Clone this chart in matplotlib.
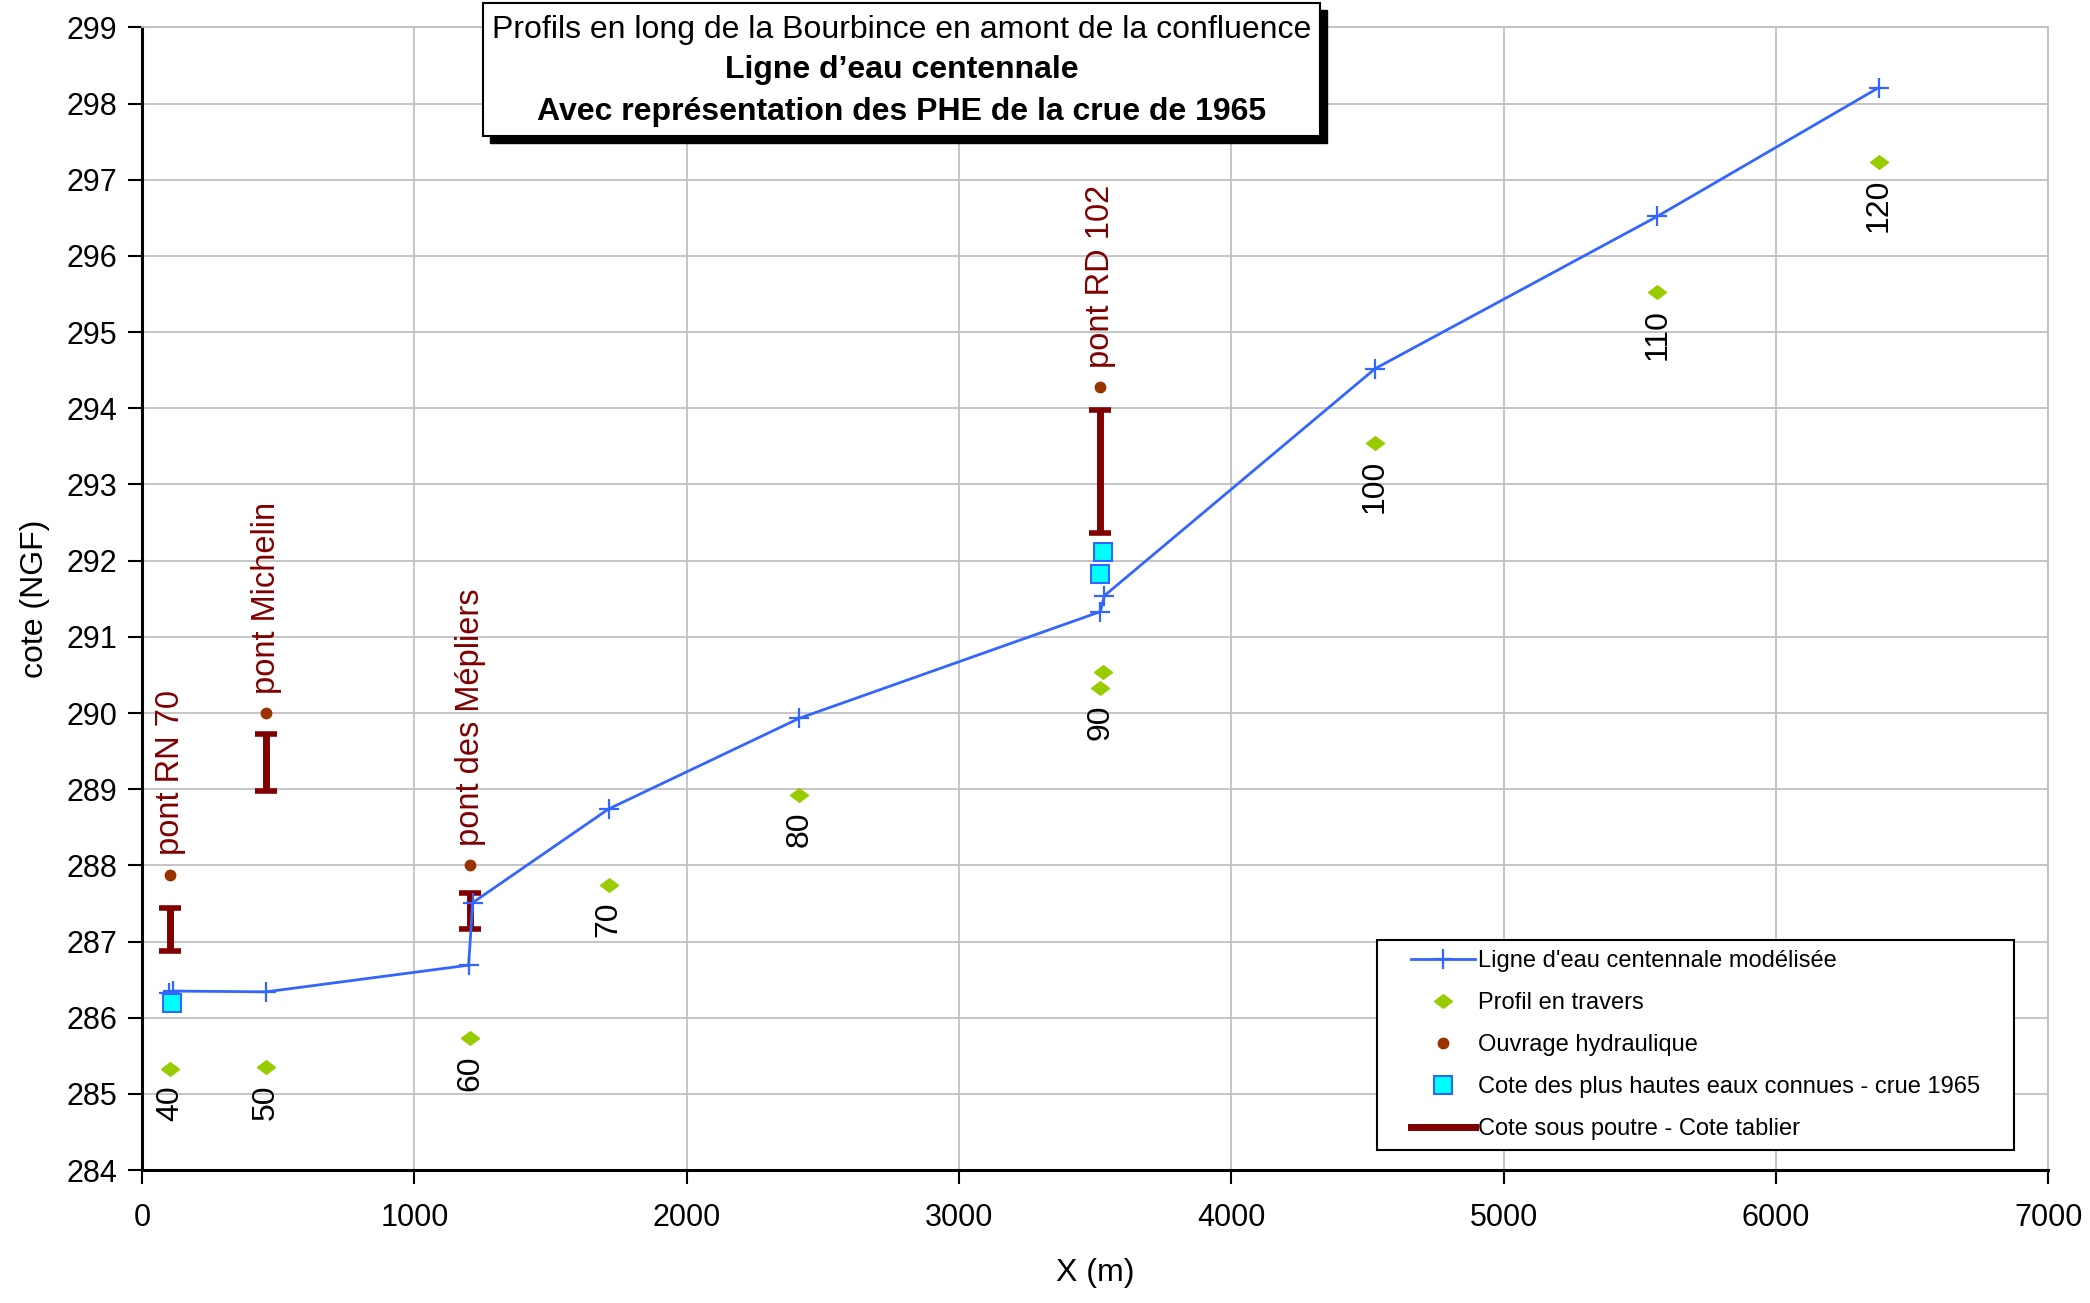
import matplotlib.pyplot as plt
from matplotlib.lines import Line2D
from matplotlib.patches import Rectangle
from matplotlib.path import Path

plt.rcParams['font.family'] = ['Liberation Sans', 'DejaVu Sans']

# ---- données lues sur le graphique
# ligne d'eau centennale modélisée
line_x = [100, 112, 455, 1199, 1214, 1713, 2413, 3519, 3534, 4528, 5565, 6378]
line_z = [286.33, 286.35, 286.34, 286.69, 287.51, 288.74, 289.93, 291.33, 291.54,
          294.52, 296.52, 298.21]

# profils en travers (fond)
prof_num = ['40', '50', '60', '70', '80', '90', '100', '110', '120']
prof_x = [103, 455, 1205, 1713, 2413, 3519, 4528, 5565, 6378]
prof_z = [285.33, 285.35, 285.73, 287.74, 288.93, 290.33, 293.55, 295.52, 297.23]
prof2_x = [3530]
prof2_z = [290.54]

# ouvrages hydrauliques
pont_nom = ['pont RN 70', 'pont Michelin', 'pont des Mépliers', 'pont RD 102']
pont_x = [103, 455, 1205, 3519]
pont_z = [287.88, 290.00, 288.00, 294.28]
poutre_z = [286.88, 288.98, 287.16, 292.36]
tablier_z = [287.44, 289.72, 287.64, 293.98]

# PHE crue 1965
phe_x = [108, 3528, 3516]
phe_z = [286.19, 292.11, 291.83]

# -------------------------- #

blue = '#3366ff'
green = '#99cc00'
brown = '#993300'
darkred = '#800000'

diamond = Path([(-1, 0), (0, 0.75), (1, 0), (0, -0.75), (-1, 0)])

fig = plt.figure(figsize=(20.9, 13.03), dpi=100)
ax = fig.add_axes([0.068, 0.102, 0.912, 0.877])

ax.plot(line_x, line_z, color=blue, lw=2, marker='+', ms=14, mew=1.6,
        label="Ligne d'eau centennale modélisée", zorder=4)
ax.plot(prof_x + prof2_x, prof_z + prof2_z, ls='none', marker=diamond, ms=13,
        color=green, label='Profil en travers', zorder=3)
ax.plot(pont_x, pont_z, ls='none', marker='o', ms=7.5, color=brown,
        label='Ouvrage hydraulique', zorder=3)
ax.plot(phe_x, phe_z, ls='none', marker='s', ms=13, mfc='cyan', mec=blue, mew=1.5,
        label='Cote des plus hautes eaux connues - crue 1965', zorder=5)

ax.vlines(pont_x, poutre_z, tablier_z, color=darkred, lw=5, zorder=3)
ax.plot(pont_x + pont_x, poutre_z + tablier_z, ls='none', marker='_', ms=16,
        mew=4, color=darkred, zorder=3)

for name, x, z in zip(pont_nom, pont_x, pont_z):
    ax.text(x, z + 0.25, name, rotation=90, ha='center', va='bottom',
            color=darkred, fontsize=23.5)
for num, x, z in zip(prof_num, prof_x, prof_z):
    ax.text(x, z - 0.22, num, rotation=90, ha='center', va='top',
            color='black', fontsize=23)

ax.set_xlim(0, 7000)
ax.set_ylim(284, 299)
ax.set_xticks(range(0, 7001, 1000))
ax.set_yticks(range(284, 300))
ax.grid(True, color='#c0c0c0', lw=1.3)
ax.set_axisbelow(True)
ax.tick_params(axis='both', labelsize=22, length=10, width=1.5, direction='out')
ax.tick_params(axis='x', pad=14)
ax.tick_params(axis='y', pad=8)
for s in ['left', 'bottom']:
    ax.spines[s].set_linewidth(2.2)
for s in ['top', 'right']:
    ax.spines[s].set_color('#c0c0c0')
    ax.spines[s].set_linewidth(1.3)

ax.set_xlabel('X (m)', fontsize=23, labelpad=18)
ax.set_ylabel('cote (NGF)', fontsize=23, labelpad=12)

# ---- légende (cadre dessiné à part)
ax.add_patch(Rectangle((0.648, 0.018), 0.334, 0.183, transform=ax.transAxes,
                       facecolor='white', edgecolor='black', lw=1.5, zorder=9))
handles, labels = ax.get_legend_handles_labels()
handles.append(Line2D([], [], color=darkred, lw=5))
labels.append('Cote sous poutre - Cote tablier')
leg = ax.legend(handles, labels, loc='center', bbox_to_anchor=(0.815, 0.1095),
                fontsize=17, handlelength=2.7, labelspacing=0.85, borderpad=0,
                frameon=False, handletextpad=0.1, borderaxespad=0)
leg.set_zorder(10)

# ---- cartouche du titre
fig.patches.append(Rectangle((0.2343, 0.8905), 0.4005, 0.1020, transform=fig.transFigure,
                             facecolor='black', edgecolor='black', zorder=8))
fig.patches.append(Rectangle((0.2311, 0.8956), 0.4005, 0.1020, transform=fig.transFigure,
                             facecolor='white', edgecolor='black', lw=1.5, zorder=9))
fig.text(0.4313, 0.977, 'Profils en long de la Bourbince en amont de la confluence',
         ha='center', va='center', fontsize=23, zorder=10)
fig.text(0.4313, 0.946, 'Ligne d\u2019eau centennale', ha='center', va='center',
         fontsize=23, fontweight='bold', zorder=10)
fig.text(0.4313, 0.914, 'Avec représentation des PHE de la crue de 1965',
         ha='center', va='center', fontsize=23, fontweight='bold', zorder=10)

fig.savefig('out.png', dpi=100)
